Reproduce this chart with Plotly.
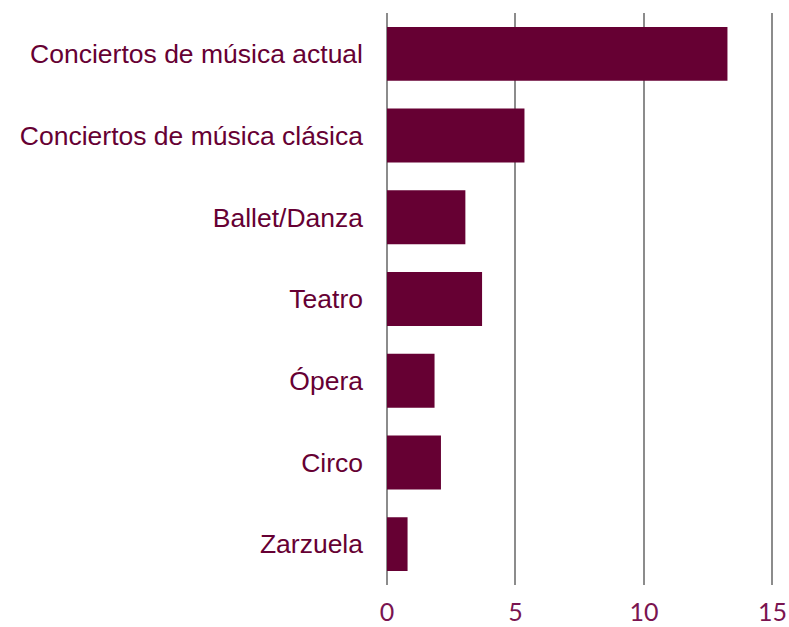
import plotly.graph_objects as go

categories = ["Conciertos de música actual", "Conciertos de música clásica", "Ballet/Danza",
              "Teatro", "Ópera", "Circo", "Zarzuela"]
values = [13.25, 5.35, 3.05, 3.7, 1.85, 2.1, 0.8]
x_ticks = [0, 5, 10, 15]

fig = go.Figure(go.Bar(
    y=categories, x=values, orientation="h",
    marker=dict(color="#660033", line=dict(width=0)),
))
fig.update_layout(
    width=789, height=627,
    margin=dict(l=387, r=14, t=13, b=42),
    paper_bgcolor="white", plot_bgcolor="white",
    bargap=0.34, showlegend=False,
    font=dict(family="Liberation Sans, Arial", color="#660033"),
)
fig.update_xaxes(
    range=[0, 15.1], tickvals=x_ticks, ticktext=[str(v) for v in x_ticks],
    showgrid=True, gridcolor="#8c8c8c", gridwidth=1.5,
    zeroline=True, zerolinecolor="#8c8c8c", zerolinewidth=2,
    showline=False, ticks="", automargin=False,
    ticklabelstandoff=10,
    tickfont=dict(family="Lato", size=25, color="#7a1450", weight=400),
)
fig.update_yaxes(
    categoryorder="array", categoryarray=categories, autorange="reversed",
    showgrid=False, zeroline=False, showline=False, ticks="", automargin=False,
    ticklabelstandoff=23,
    tickfont=dict(family="Liberation Sans, Arial", size=26.5, color="#660033"),
)
fig.write_html(
    "out.html",
    config={"displayModeBar": False},
    post_script="document.body.style.margin='0';document.body.style.overflow='hidden';",
)
